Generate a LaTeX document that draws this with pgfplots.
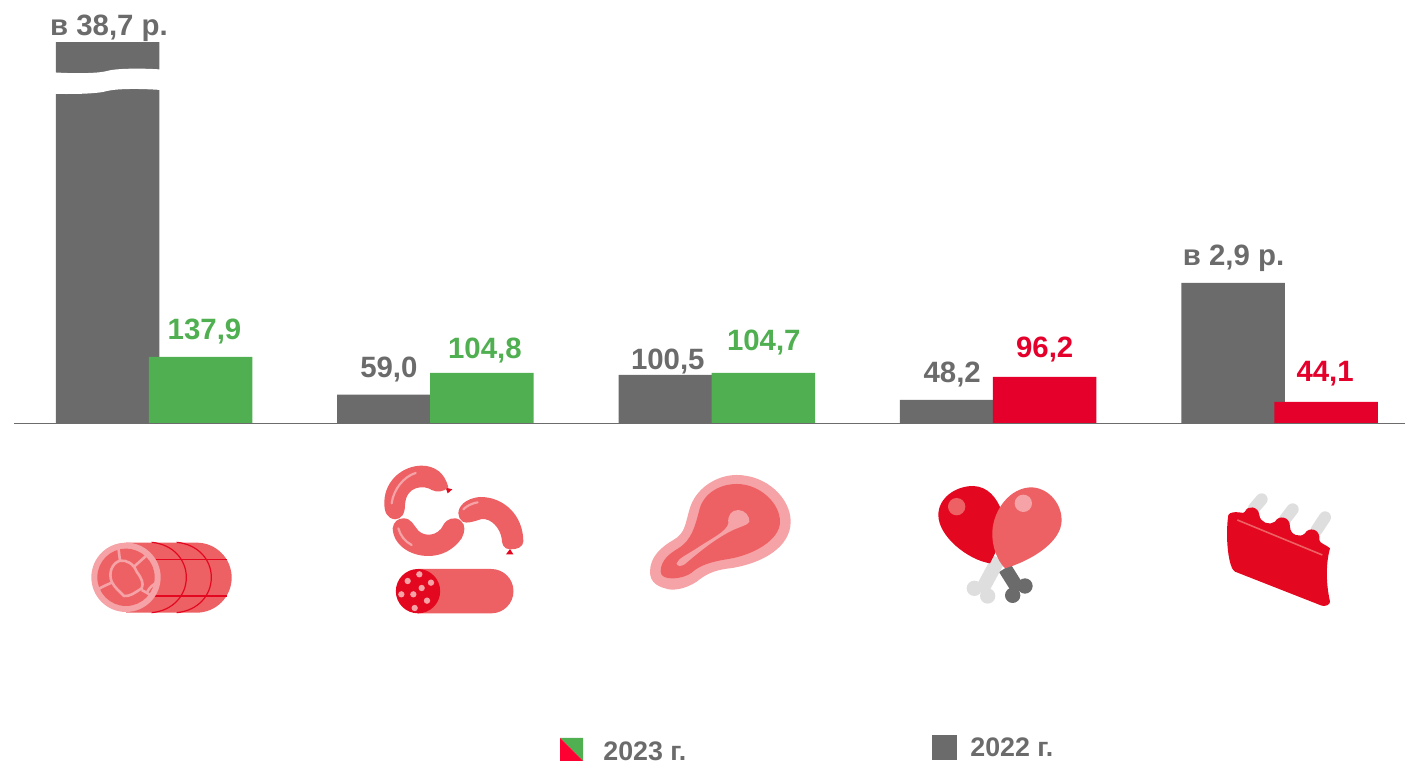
\documentclass[border=0pt]{standalone}
\usepackage{fontspec}
\setmainfont{Liberation Sans}
\usepackage{pgfplots}
\pgfplotsset{compat=1.18}
\definecolor{cgray}{HTML}{6B6B6B}
\definecolor{cgreen}{HTML}{50AF50}
\definecolor{cred}{HTML}{E4002B}
\definecolor{cicon}{HTML}{E30820}
\definecolor{cleg}{HTML}{FF0033}
\definecolor{csal}{HTML}{ED6164}
\definecolor{clight}{HTML}{F5A3A7}
\definecolor{cbone}{HTML}{DEDEDE}
\tikzset{
  px/.style={shift={(0pt,382pt)},x=0.5pt,y=-0.5pt},
  icon/.style 2 args={shift={({#1*0.5pt},{382pt-#2*0.5pt})},x=0.16667pt,y=-0.16667pt},
}
\pgfplotsset{
  barstyle/.style 2 args={
    ybar, bar width=51.75pt, bar shift=#1pt, draw=none, fill=#2, text=#2,
    point meta=explicit symbolic,
    visualization depends on={value \thisrow{dx}\as\dx},
    visualization depends on={value \thisrow{dy}\as\dy},
    nodes near coords,
    every node near coord/.append style={
      anchor=base, font=\fontsize{14.7pt}{16pt}\selectfont\bfseries, text=#2,
      inner sep=0pt, xshift=\dx*0.5pt+#1pt, yshift=\dy*0.5pt},
  },
}
\begin{document}
\begin{tikzpicture}
\useasboundingbox (0,0) rectangle (702.5pt,382pt);
\begin{axis}[
  at={(0,0)}, anchor=south west, scale only axis,
  width=702.5pt, height=382pt,
  xmin=-0.5473, xmax=4.4456, ymin=-712.5, ymax=883.8,
  axis lines=none, clip=false,
]
\addplot[barstyle={-23.25}{cgray}] table[col sep=semicolon,row sep=\\,x=x,y=y,meta=lab]{
x;y;lab;dx;dy\\
0;796;в 38,7 р.;1.5;7\\
1;59.0;59,0;0;17\\
2;100.5;100,5;-2.5;5\\
3;48.2;48,2;0.5;17\\
4;292.5;в 2,9 р.;0.5;17\\
};
\addplot[barstyle={23.25}{cgreen}] table[col sep=semicolon,row sep=\\,x=x,y=y,meta=lab]{
x;y;lab;dx;dy\\
0;137.9;137,9;4;17\\
1;104.8;104,8;3;14\\
2;104.7;104,7;0.5;22\\
};
\addplot[barstyle={23.25}{cred}] table[col sep=semicolon,row sep=\\,x=x,y=y,meta=lab]{
x;y;lab;dx;dy\\
3;96.2;96,2;0;19\\
4;44.1;44,1;-1;20\\
};
\end{axis}
% baseline and axis break
\begin{scope}[px]
\draw[color=gray!85!black,line width=0.6pt] (14,423.3) -- (1405,423.3);
\fill[white] (54,72.4) .. controls (80,74) and (100,73) .. (107,71) .. controls (115,68.5) and (140,68) .. (161,69.5)
  -- (161,90) .. controls (140,88.5) and (118,88.5) .. (107,91) .. controls (100,93.5) and (75,94.5) .. (54,93.8) -- cycle;
% legend
\fill[cgreen] (560,738) -- (583,738) -- (583,761) -- cycle;
\fill[cleg] (560,738) -- (583,761) -- (560,761) -- cycle;
\node[anchor=base west,inner sep=0pt,text=cgray,font=\fontsize{13.4pt}{15pt}\selectfont\bfseries] at (603,761) {2023 г.};
\fill[cgray] (932,735) rectangle (957,760);
\node[anchor=base west,inner sep=0pt,text=cgray,font=\fontsize{13.4pt}{15pt}\selectfont\bfseries] at (970,757) {2022 г.};
\end{scope}
% icon 1: roast
\begin{scope}[icon={70}{450}]
\fill[csal] (168,278) -- (380,278) arc[start angle=-90,end angle=90,radius=105] -- (168,488) -- cycle;
\draw[cicon,line width=0.6pt] (245,277) .. controls (310,283) and (349,330) .. (349,382) .. controls (349,435) and (310,482) .. (245,488);
\draw[cicon,line width=0.6pt] (320,277) .. controls (385,283) and (424,330) .. (424,382) .. controls (424,435) and (385,482) .. (320,488);
\draw[cicon,line width=0.6pt] (250,328) -- (470,328);
\draw[cicon,line width=0.6pt] (250,438) -- (470,438);
\fill[clight] (168,382) circle[radius=104];
\fill[csal] (168,382) circle[radius=86];
\draw[clight,line width=1.3pt,line join=round,fill=csal] (150,332) .. controls (170,330) and (190,340) .. (200,365) .. controls (215,385) and (222,400) .. (215,415) .. controls (195,428) and (180,440) .. (162,438) .. controls (150,425) and (135,415) .. (125,395) .. controls (115,370) and (125,340) .. (150,332) -- cycle;
\draw[clight,line width=1.3pt] (150,332) -- (145,292);
\draw[clight,line width=1.3pt] (192,350) -- (228,318);
\draw[clight,line width=1.3pt] (125,398) .. controls (110,405) and (95,410) .. (82,420);
\draw[clight,line width=1.3pt] (215,420) .. controls (225,425) and (235,430) .. (245,440);
\draw[clight,line width=1.3pt] (232,425) .. controls (240,410) and (250,405) .. (258,398);
\end{scope}
% icon 2: sausages
\begin{scope}[icon={370}{450}]
\fill[cicon] (227,113) -- (247,118) -- (233,130) -- cycle;
\fill[cicon] (408,313) -- (430,313) -- (420,297) -- cycle;
\fill[csal] (75,208) .. controls (50,205) and (42,185) .. (43,155) .. controls (45,90) and (100,47) .. (155,47) .. controls (195,47) and (225,70) .. (235,112) .. controls (220,127) and (200,127) .. (185,120) .. controls (165,105) and (108,105) .. (105,165) .. controls (105,190) and (95,208) .. (75,208) -- cycle;
\fill[csal] (68,235) .. controls (70,215) and (85,205) .. (100,205) .. controls (125,205) and (130,225) .. (145,242) .. controls (165,262) and (205,258) .. (220,225) .. controls (230,205) and (255,198) .. (272,212) .. controls (288,225) and (285,245) .. (275,265) .. controls (250,300) and (215,318) .. (175,318) .. controls (120,318) and (70,285) .. (68,235) -- cycle;
\fill[csal] (265,190) .. controls (265,170) and (285,145) .. (330,141) .. controls (400,140) and (460,195) .. (460,275) .. controls (460,290) and (440,300) .. (420,298) .. controls (400,298) and (395,280) .. (395,265) .. controls (390,235) and (365,205) .. (335,207) .. controls (310,215) and (290,222) .. (278,215) .. controls (270,210) and (265,200) .. (265,190) -- cycle;
\draw[clight,line width=1.1pt,line cap=round] (65,160) .. controls (70,120) and (100,80) .. (137,69);
\draw[clight,line width=1.1pt,line cap=round] (85,235) .. controls (90,255) and (105,275) .. (125,285);
\draw[clight,line width=1.1pt,line cap=round] (280,178) .. controls (290,168) and (305,160) .. (323,157);
\fill[csal] (144,357) -- (364,357) arc[start angle=-90,end angle=90,radius=66.5] -- (144,490) -- cycle;
\fill[cicon] (144,423.5) circle[radius=66.5];
\foreach \a/\b in {113/393,148/373,183/398,155/414,94/433,130/433,171/452,134/474}
  \fill[clight] (\a,\b) circle[radius=9.5];
\end{scope}
% icon 3: steak
\begin{scope}[icon={640}{460}]
\fill[clight] (30,335) .. controls (30,290) and (65,260) .. (100,240) .. controls (135,220) and (135,195) .. (148,150) .. controls (165,85) and (230,45) .. (290,45) .. controls (380,45) and (452,115) .. (452,185) .. controls (452,260) and (370,310) .. (270,325) .. controls (220,330) and (195,345) .. (170,365) .. controls (140,385) and (100,395) .. (75,385) .. controls (50,378) and (30,365) .. (30,335) -- cycle;
\fill[csal] (62,335) .. controls (62,300) and (90,280) .. (115,265) .. controls (155,240) and (165,200) .. (178,150) .. controls (190,100) and (240,72) .. (290,72) .. controls (360,72) and (420,130) .. (420,185) .. controls (420,240) and (340,285) .. (265,297) .. controls (215,305) and (180,315) .. (155,338) .. controls (130,358) and (62,365) .. (62,335) -- cycle;
\fill[clight] (110,310) .. controls (115,295) and (140,285) .. (175,262) .. controls (215,235) and (260,215) .. (265,190) .. controls (262,165) and (275,150) .. (295,150) .. controls (315,150) and (330,170) .. (328,185) .. controls (325,195) and (300,200) .. (275,212) .. controls (230,235) and (190,265) .. (135,312) .. controls (125,320) and (110,320) .. (110,310) -- cycle;
\end{scope}
% icon 4: drumsticks
\begin{scope}[icon={925}{470}]
\draw[cgray,line width=7pt] (240,295) -- (282,362);
\fill[cgray] (300,348) circle[radius=23];
\fill[cgray] (263,376) circle[radius=23];
\draw[cbone,line width=7pt] (222,265) -- (168,365);
\fill[cbone] (148,355) circle[radius=23];
\fill[cbone] (188,378) circle[radius=23];
\fill[cicon] (145,48) .. controls (190,50) and (215,85) .. (228,118) -- (235,200) -- (195,280) .. controls (130,270) and (40,200) .. (40,135) .. controls (40,85) and (90,48) .. (145,48) -- cycle;
\fill[csal] (95,110) circle[radius=26];
\fill[csal] (320,52) .. controls (375,55) and (410,105) .. (410,150) .. controls (410,220) and (310,275) .. (240,295) .. controls (215,270) and (200,225) .. (202,185) .. controls (205,120) and (255,52) .. (320,52) -- cycle;
\fill[clight] (295,100) circle[radius=26];
\end{scope}
% icon 5: ribs
\begin{scope}[icon={1210}{480}]
\draw[cbone,line width=6pt,line cap=round] (132,85) -- (155,58);
\draw[cbone,line width=6pt,line cap=round] (225,118) -- (248,88);
\draw[cbone,line width=6pt,line cap=round] (320,150) -- (345,112);
\fill[cicon] (60,100) .. controls (85,90) and (100,105) .. (105,95) .. controls (112,75) and (145,78) .. (148,105) .. controls (150,128) and (180,138) .. (195,125) .. controls (205,105) and (240,108) .. (240,140) .. controls (240,165) and (270,175) .. (285,160) .. controls (295,140) and (332,145) .. (328,180) .. controls (328,190) and (350,195) .. (360,205) .. controls (345,260) and (350,320) .. (360,365) .. controls (360,375) and (345,380) .. (335,377) -- (75,275) .. controls (55,265) and (45,170) .. (55,105) -- cycle;
\draw[csal,line width=0.8pt] (82,120) -- (337,225);
\end{scope}
\end{tikzpicture}
\end{document}
